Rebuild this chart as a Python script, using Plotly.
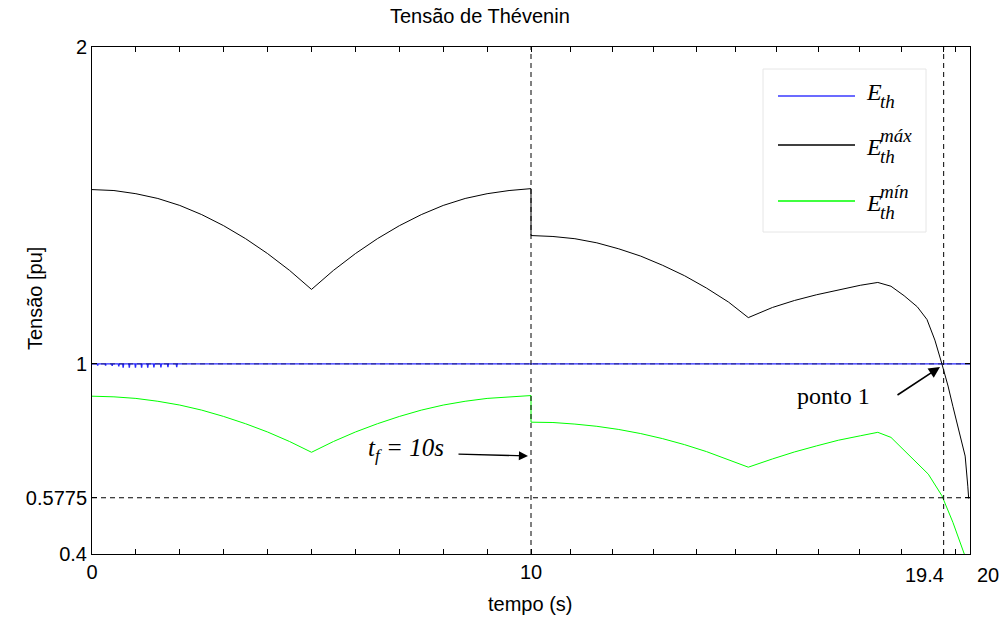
import plotly.graph_objects as go

# ---------------- data ----------------
t_max = [0, 0.5, 1, 1.5, 2, 2.5, 3, 3.5, 4, 4.5, 5,
         5.5, 6, 6.5, 7, 7.5, 8, 8.5, 9, 9.5, 10,
         10, 10.5, 11, 11.5, 12, 12.5, 13, 13.5, 14, 14.5, 14.95,
         15.5, 16, 16.5, 17, 17.5, 17.9,
         18.2, 18.5, 18.8, 19.02, 19.2, 19.36, 19.5, 19.61, 19.75, 19.89, 19.95, 19.97]
e_max = [1.550, 1.547, 1.537, 1.522, 1.500, 1.471, 1.436, 1.395, 1.348, 1.295, 1.235,
         1.295, 1.348, 1.395, 1.436, 1.471, 1.500, 1.522, 1.537, 1.547, 1.553,
         1.405, 1.402, 1.395, 1.382, 1.363, 1.340, 1.311, 1.278, 1.239, 1.195, 1.146,
         1.178, 1.200, 1.218, 1.234, 1.248, 1.257,
         1.245, 1.215, 1.180, 1.140, 1.075, 1.000, 0.930, 0.866, 0.790, 0.709, 0.614, 0.575]

t_min = [0, 0.5, 1, 1.5, 2, 2.5, 3, 3.5, 4, 4.5, 5,
         5.5, 6, 6.5, 7, 7.5, 8, 8.5, 9, 9.5, 10,
         10, 10.5, 11, 11.5, 12, 12.5, 13, 13.5, 14, 14.5, 14.95,
         15.5, 16, 16.5, 17, 17.5, 17.9,
         18.2, 18.55, 19.05, 19.36, 19.61, 19.87, 20]
e_min = [0.898, 0.896, 0.891, 0.882, 0.870, 0.854, 0.834, 0.811, 0.785, 0.755, 0.721,
         0.755, 0.785, 0.811, 0.834, 0.854, 0.870, 0.882, 0.891, 0.896, 0.900,
         0.816, 0.815, 0.810, 0.803, 0.793, 0.780, 0.764, 0.745, 0.723, 0.698, 0.674,
         0.700, 0.722, 0.741, 0.759, 0.773, 0.784,
         0.768, 0.721, 0.652, 0.584, 0.500, 0.400, 0.340]

t_eth = [0, 0.12, 0.13, 0.14, 0.3, 0.31, 0.32, 0.45, 0.46, 0.47, 0.6, 0.61, 0.62,
         0.7, 0.71, 0.72, 0.84, 0.85, 0.86, 0.98, 0.99, 1.0, 1.12, 1.13, 1.14,
         1.26, 1.27, 1.28, 1.40, 1.41, 1.42, 1.56, 1.57, 1.58, 1.72, 1.73, 1.74,
         1.92, 1.93, 1.94, 20]
e_th = [1.0, 1.0, 0.995, 1.0, 1.0, 0.995, 1.0, 1.0, 0.994, 1.0, 1.0, 0.992, 1.0,
        1.0, 0.988, 1.0, 1.0, 0.988, 1.0, 1.0, 0.988, 1.0, 1.0, 0.988, 1.0,
        1.0, 0.988, 1.0, 1.0, 0.989, 1.0, 1.0, 0.989, 1.0, 1.0, 0.990, 1.0,
        1.0, 0.990, 1.0, 1.0]

t_fault = 10
t_point1 = 19.4
v_limit = 0.5775
v_point1 = 1.0

x_range = [0, 20]
y_range = [0.4, 2]
x_tickvals = [0, 10, 19.4, 20]
x_ticktext = ['0', '10', '', '']
x_minor = [1, 2, 3, 4, 5, 6, 7, 8, 9,
           10.89, 11.85, 12.78, 13.76, 14.65, 15.6, 16.54, 17.49, 18.45, 19.66]
y_tickvals = [0.4, 0.5775, 1, 2]
y_ticktext = ['0.4', '0.5775', '1', '2']

# ---------------- layout helpers ----------------
W, H = 1005, 623
ML, MR, MT, MB = 92, 35, 47, 69
PW, PH = W - ML - MR, H - MT - MB


def px(x):
    return (x - ML) / PW


def py(y):
    return (H - MB - y) / PH


SANS = "Liberation Sans, Arial, sans-serif"
SERIF = "Liberation Serif, Times New Roman, serif"
dash = "5px,4px"

fig = go.Figure()

fig.add_trace(go.Scatter(x=t_eth, y=e_th, mode="lines",
                         line=dict(color="#2a2aff", width=1.4), showlegend=False))
fig.add_trace(go.Scatter(x=x_range, y=[v_point1, v_point1], mode="lines",
                         line=dict(color="rgba(0,0,70,0.55)", width=1.2, dash=dash), showlegend=False))
fig.add_trace(go.Scatter(x=t_max, y=e_max, mode="lines",
                         line=dict(color="black", width=1), showlegend=False))
fig.add_trace(go.Scatter(x=t_min, y=e_min, mode="lines",
                         line=dict(color="#00ff00", width=1), showlegend=False))
for xv in (t_fault, t_point1):
    fig.add_trace(go.Scatter(x=[xv, xv], y=y_range, mode="lines",
                             line=dict(color="black", width=1, dash=dash), showlegend=False))
fig.add_trace(go.Scatter(x=x_range, y=[v_limit, v_limit], mode="lines",
                         line=dict(color="black", width=1, dash=dash), showlegend=False))

shapes = []
annotations = []

# custom legend
shapes.append(dict(type="rect", xref="paper", yref="paper",
                   x0=px(763), x1=px(926), y0=py(69), y1=py(232),
                   line=dict(color="#e6e6e6", width=1), fillcolor="white", layer="above"))
leg = [("#3a3aff", 96, None), ("black", 145, "máx"), ("#00ff00", 201, "mín")]
for color, yc, sup in leg:
    shapes.append(dict(type="line", xref="paper", yref="paper",
                       x0=px(778), x1=px(855), y0=py(yc), y1=py(yc),
                       line=dict(color=color, width=1.3), layer="above"))
    eb = yc + 4 if sup is None else yc + 10
    annotations.append(dict(x=px(864), y=py(eb - 8), xref="paper", yref="paper",
                            text="<i>E</i>", showarrow=False, xanchor="left", yanchor="middle",
                            font=dict(family=SERIF, size=24, color="black")))
    annotations.append(dict(x=px(878), y=py(eb + 8 - 6.5), xref="paper", yref="paper",
                            text="<i>th</i>", showarrow=False, xanchor="left", yanchor="middle",
                            font=dict(family=SERIF, size=19, color="black")))
    if sup:
        annotations.append(dict(x=px(878), y=py(eb - 13 - 6.5), xref="paper", yref="paper",
                                text="<i>" + sup + "</i>", showarrow=False, xanchor="left",
                                yanchor="middle",
                                font=dict(family=SERIF, size=19, color="black")))

# x tick labels placed by hand for 19.4 and 20
annotations.append(dict(x=t_point1, y=0, xref="x", yref="paper", text="19.4",
                        showarrow=False, xanchor="center", yanchor="top", xshift=-19, yshift=-8,
                        font=dict(family=SANS, size=20, color="black")))
annotations.append(dict(x=20, y=0, xref="x", yref="paper", text="20",
                        showarrow=False, xanchor="center", yanchor="top", xshift=18, yshift=-8,
                        font=dict(family=SANS, size=20, color="black")))

# axis titles
annotations.append(dict(x=px(530), y=py(604), xref="paper", yref="paper", text="tempo (s)",
                        showarrow=False, xanchor="center", yanchor="middle",
                        font=dict(family=SANS, size=20, color="black")))
annotations.append(dict(x=px(35), y=py(298), xref="paper", yref="paper", text="Tensão [pu]",
                        showarrow=False, xanchor="center", yanchor="middle", textangle=-90,
                        font=dict(family=SANS, size=20, color="black")))
annotations.append(dict(x=px(480), y=py(16), xref="paper", yref="paper", text="Tensão de Thévenin",
                        showarrow=False, xanchor="center", yanchor="middle",
                        font=dict(family=SANS, size=20, color="black")))

# ponto 1
annotations.append(dict(x=px(795), y=py(396), xref="paper", yref="paper", text="ponto 1",
                        showarrow=False, xanchor="left", yanchor="middle",
                        font=dict(family=SERIF, size=24, color="black")))
annotations.append(dict(x=px(940), y=py(367), xref="paper", yref="paper", text="",
                        showarrow=True, ax=-44, ay=29, arrowhead=2, arrowsize=1.4,
                        arrowwidth=1.6, arrowcolor="black"))
# t_f = 10s
annotations.append(dict(x=px(446), y=py(449), xref="paper", yref="paper",
                        text="<i>t<sub>f</sub> = 10s</i>",
                        showarrow=False, xanchor="right", yanchor="middle",
                        font=dict(family=SERIF, size=25, color="black")))
annotations.append(dict(x=px(528), y=py(456), xref="paper", yref="paper", text="",
                        showarrow=True, ax=-71, ay=-2, arrowhead=2, arrowsize=1.4,
                        arrowwidth=1.3, arrowcolor="black"))

fig.update_layout(
    width=W, height=H,
    margin=dict(l=ML, r=MR, t=MT, b=MB, autoexpand=False),
    paper_bgcolor="white", plot_bgcolor="white",
    showlegend=False,
    shapes=shapes, annotations=annotations,
    xaxis=dict(range=x_range, tickvals=x_tickvals, ticktext=x_ticktext, automargin=False,
               ticks="inside", ticklen=5, tickcolor="black", showgrid=False, zeroline=False,
               showline=True, linecolor="black", linewidth=1, mirror="ticks",
               tickfont=dict(family=SANS, size=20, color="black"),
               minor=dict(tickvals=x_minor, ticks="inside", ticklen=5, tickcolor="black")),
    yaxis=dict(range=y_range, tickvals=y_tickvals, ticktext=y_ticktext, automargin=False,
               ticks="inside", ticklen=5, tickcolor="black", showgrid=False, zeroline=False,
               showline=True, linecolor="black", linewidth=1, mirror="ticks",
               tickfont=dict(family=SANS, size=20, color="black")),
)

fig.write_html("out.html")
